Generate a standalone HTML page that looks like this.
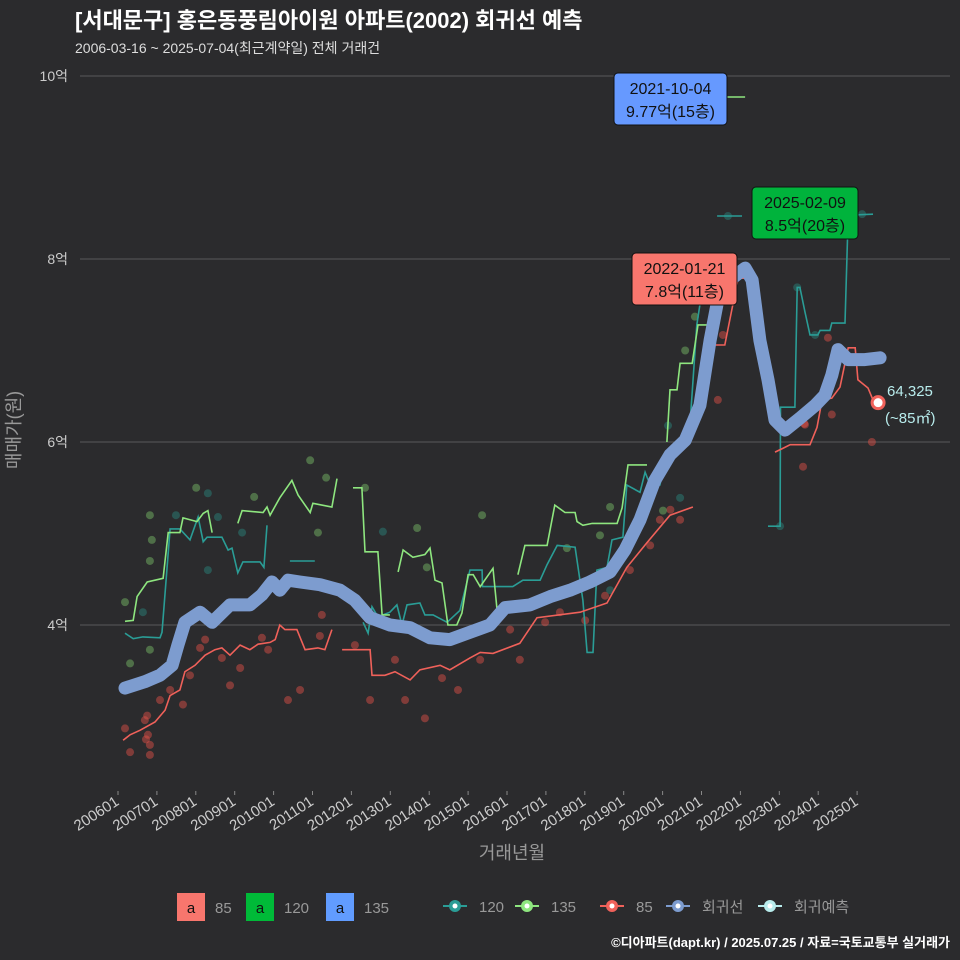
<!DOCTYPE html>
<html><head><meta charset="utf-8">
<style>
body{margin:0;background:#2b2b2d;}
svg{display:block;font-family:"Liberation Sans","Noto Sans CJK KR",sans-serif;}
</style></head>
<body>
<svg id="chart" width="960" height="960" viewBox="0 0 960 960">
<rect x="0" y="0" width="960" height="960" fill="#2b2b2d"/>
<text x="75" y="28" fill="#ffffff" font-size="22" font-weight="bold">[서대문구] 홍은동풍림아이원 아파트(2002) 회귀선 예측</text>
<text x="75" y="53" fill="#dddddd" font-size="14">2006-03-16 ~ 2025-07-04(최근계약일) 전체 거래건</text>
<g id="grid"></g>
<g id="series"></g>
<g id="xaxis"></g>
<g id="yaxis"></g>
<text x="512" y="859" fill="#999999" font-size="18" text-anchor="middle">거래년월</text>
<text transform="translate(20,430) rotate(-90)" fill="#999999" font-size="18" text-anchor="middle">매매가(원)</text>
<g id="legend"></g>
<text x="950" y="947" fill="#ffffff" font-size="13" font-weight="bold" text-anchor="end">©디아파트(dapt.kr) / 2025.07.25 / 자료=국토교통부 실거래가</text>
</svg>
<script>
const yTicks=[4,6,8,10];
const yTickLabels=["4억","6억","8억","10억"];
const xTickYears=[2006,2007,2008,2009,2010,2011,2012,2013,2014,2015,2016,2017,2018,2019,2020,2021,2022,2023,2024,2025];
const xTickLabels=["200601","200701","200801","200901","201001","201101","201201","201301","201401","201501","201601","201701","201801","201901","202001","202101","202201","202301","202401","202501"];

const regYears=[2006.18,2006.69,2007.08,2007.39,2007.54,2007.72,2008.11,2008.42,2008.88,2009.39,2009.70,2009.96,2010.16,2010.37,2010.68,2011.19,2011.71,2012.09,2012.48,2012.99,2013.51,2014.02,2014.53,2015.05,2015.56,2015.95,2016.59,2017.11,2017.62,2018.13,2018.65,2019.03,2019.42,2019.80,2020.19,2020.58,2020.96,2021.22,2021.42,2021.73,2022.12,2022.30,2022.50,2022.71,2022.89,2023.15,2023.53,2023.92,2024.17,2024.35,2024.51,2024.77,2025.20,2025.59];
const regValues=[3.31,3.38,3.45,3.56,3.78,4.03,4.14,4.03,4.22,4.22,4.33,4.47,4.38,4.49,4.47,4.44,4.38,4.27,4.08,4.00,3.97,3.86,3.84,3.92,4.00,4.19,4.22,4.31,4.38,4.47,4.58,4.82,5.15,5.58,5.86,6.02,6.40,7.11,7.55,7.77,7.90,7.77,7.11,6.68,6.24,6.13,6.26,6.40,6.51,6.73,7.01,6.90,6.90,6.92];

const redYears=[2006.13,2006.31,2006.57,2006.95,2007.21,2007.34,2007.59,2007.72,2007.98,2008.24,2008.49,2008.67,2008.88,2009.14,2009.39,2009.60,2009.91,2010.04,2010.16,2010.29,2010.60,2010.81,2011.14,2011.32,2011.50,null,2011.76,2012.48,2012.53,2012.86,2013.12,2013.51,2013.76,2014.28,2014.53,2015.05,2015.31,2015.64,2016.33,2016.77,2017.88,2018.57,2019.08,2019.60,2020.19,2020.78,null,2021.04,2021.19,2021.60,2021.94,2022.32,null,2022.89,2023.09,2023.28,2023.79,2023.97,2024.10,2024.35,2024.56,2024.77,2024.95,2025.02,2025.28,2025.41];
const redValues=[2.74,2.80,2.85,2.94,3.07,3.23,3.29,3.49,3.56,3.67,3.73,3.75,3.67,3.78,3.73,3.79,3.81,3.84,4.00,3.95,3.95,3.73,3.75,3.73,3.95,null,3.73,3.73,3.45,3.45,3.49,3.40,3.51,3.56,3.51,3.64,3.70,3.69,3.80,4.08,4.14,4.24,4.63,4.90,5.20,5.29,null,6.46,7.06,7.06,7.79,7.79,null,5.89,5.93,5.97,5.97,6.16,6.46,6.48,6.60,7.03,7.03,6.68,6.59,6.46];

const greenYears=[2006.18,2006.39,2006.49,2006.75,2007.16,2007.29,2007.59,2007.67,2008.03,2008.19,2008.31,2008.42,null,2009.08,2009.19,2009.73,2009.83,2009.91,2010.16,2010.47,2010.63,2010.94,2011.01,2011.50,2011.63,null,2012.04,2012.27,2012.35,2012.68,2012.79,2012.99,null,2013.20,2013.33,2013.58,2013.89,2014.02,2014.15,2014.33,2014.48,2014.71,2014.84,2015.00,2015.13,2015.31,2015.64,2015.77,null,2016.28,2016.46,2017.03,2017.23,2017.49,2017.75,2017.80,2017.95,2018.19,2018.83,2018.96,2019.11,2019.60,null,2020.11,2020.19,2020.37,2020.45,2020.76,2020.91,2021.14,2021.19,null,2021.66,2022.12];
const greenValues=[4.04,4.05,4.31,4.47,4.51,5.01,5.01,5.17,5.13,5.22,5.25,5.01,null,5.11,5.25,5.23,5.29,5.20,5.39,5.58,5.42,5.23,5.33,5.29,5.60,null,5.50,5.50,4.80,4.80,4.11,4.11,null,4.58,4.82,4.74,4.77,4.84,4.49,4.46,4.00,4.00,4.13,4.55,4.55,4.42,4.62,4.05,null,4.55,4.87,4.87,5.31,5.23,5.23,5.13,5.09,5.11,5.11,5.28,5.75,5.75,null,6.00,6.57,6.57,6.86,6.86,7.28,7.28,7.20,null,9.77,9.77];

const tealYears=[2006.18,2006.39,2006.64,2007.08,2007.13,2007.34,2007.59,2007.85,2008.06,2008.19,2008.29,2008.67,2008.83,2008.93,2009.08,2009.21,2009.65,2009.75,2009.83,null,2010.42,2011.06,null,2012.30,2012.43,2012.53,2012.68,2012.99,2013.17,2013.30,2013.43,2013.76,2013.89,2014.10,2014.46,2014.79,2015.05,2015.36,2015.37,2016.15,2016.41,2016.85,2017.03,2017.29,2017.75,2017.95,2018.06,2018.21,2018.31,2018.57,2018.70,2018.98,2019.08,2019.42,2019.55,2019.68,2019.93,2020.11,2020.40,2020.58,2020.70,2020.88,2020.96,null,2021.40,2022.04,null,2022.71,2023.02,2023.03,2023.40,2023.46,2023.53,2023.66,2023.79,2023.99,2024.05,2024.30,2024.35,2024.69,2024.77,2025.41];
const tealValues=[3.91,3.85,3.87,3.86,3.92,5.05,5.05,4.93,5.18,4.91,4.96,4.96,4.82,4.84,4.57,4.69,4.69,4.63,5.09,null,4.70,4.70,null,4.03,3.91,4.20,4.09,4.14,4.22,4.00,4.22,4.24,4.11,4.11,4.03,4.16,4.60,4.60,4.42,4.42,4.49,4.49,4.66,4.87,4.85,4.27,3.70,3.70,4.60,4.63,4.93,4.96,5.53,5.45,5.67,5.53,5.53,5.88,5.97,6.16,6.16,7.28,7.50,null,8.47,8.47,null,5.08,5.08,6.38,6.38,7.69,7.69,7.42,7.17,7.17,7.22,7.22,7.30,7.30,8.48,8.49];

const redDotYears=[2006.18,2006.31,2006.69,2006.77,2006.82,2006.82,2006.75,2006.72,2007.08,2007.34,2007.67,2007.85,2008.11,2008.24,2008.37,2008.67,2008.88,2009.14,2009.70,2009.86,2010.37,2010.68,2011.19,2011.24,2012.09,2012.48,2013.12,2013.38,2013.89,2014.33,2014.74,2015.31,2016.08,2016.33,2016.98,2017.36,2018.01,2018.52,2019.16,2019.68,2019.93,2020.45,2020.20,2021.42,2021.55,2023.61,2023.66,2023.64,2024.25,2024.35,2025.38];
const redDotValues=[2.87,2.61,2.96,2.80,2.69,2.58,3.01,2.75,3.18,3.29,3.13,3.45,3.75,3.84,4.05,3.64,3.34,3.53,3.86,3.73,3.18,3.29,3.88,4.11,3.78,3.18,3.62,3.18,2.98,3.42,3.29,3.62,3.95,3.62,4.03,4.14,4.05,4.32,4.60,4.87,5.15,5.15,5.26,6.46,7.17,5.73,6.19,6.20,7.14,6.30,6.00];
const greenDotYears=[2006.18,2006.82,2006.87,2006.82,2006.31,2006.82,2008.01,2009.50,2010.94,2011.35,2011.14,2012.35,2013.69,2013.94,2015.36,2017.54,2018.39,2018.65,2020.01,2020.58,2020.83];
const greenDotValues=[4.25,5.20,4.93,4.70,3.58,3.73,5.50,5.40,5.80,5.61,5.01,5.50,5.06,4.63,5.20,4.84,4.98,5.29,5.25,7.00,7.37];
const tealDotYears=[2006.64,2007.49,2008.31,2008.57,2009.19,2008.31,2012.81,2018.65,2020.14,2020.45,2021.68,2023.02,2023.46,2025.13,2023.92];
const tealDotValues=[4.14,5.20,5.44,5.18,5.01,4.60,5.02,4.38,6.18,5.39,8.47,5.08,7.69,8.49,7.17];

const predYear=2025.54, predValue=6.43;

const NS="http://www.w3.org/2000/svg";
function X(yr){return 118+(yr-2006)*38.9;}
function Y(v){return 625-(v-4)*91.5;}
function mk(tag,attrs,parent){const e=document.createElementNS(NS,tag);for(const k in attrs)e.setAttribute(k,attrs[k]);parent.appendChild(e);return e;}
const grid=document.getElementById('grid'),ser=document.getElementById('series'),xa=document.getElementById('xaxis'),ya=document.getElementById('yaxis'),lg=document.getElementById('legend');

yTicks.forEach((v,i)=>{
  const l=mk('line',{x1:80,x2:950,y1:Y(v),y2:Y(v),stroke:'#5a5a5a','stroke-width':1},grid);
  
  
  const t=mk('text',{x:68,y:Y(v)+5,fill:'#cccccc','font-size':14,'text-anchor':'end'},ya);
  t.textContent=yTickLabels[i];
  
  
});
xTickYears.forEach((yr,i)=>{
  const x=X(yr);
  const tk=mk('line',{x1:x,x2:x,y1:791,y2:795,stroke:'#888','stroke-width':1},xa);
  
  
  const t=mk('text',{transform:`translate(${x+2},${804}) rotate(-33)`,fill:'#cccccc','font-size':15,'text-anchor':'end'},xa);
  t.textContent=xTickLabels[i];
  
  
});

function pathFrom(years,vals){let d='',pen=false;for(let i=0;i<years.length;i++){if(years[i]===null){pen=false;continue;}d+=(pen?'L':'M')+X(years[i]).toFixed(1)+','+Y(vals[i]).toFixed(1);pen=true;}return d;}
function dots(years,vals,color,name){years.forEach((yr,i)=>{const c=mk('circle',{cx:X(yr),cy:Y(vals[i]),r:4,fill:color,'fill-opacity':0.45},ser);});}

dots(redDotYears,redDotValues,'#e8524a','point-85');
dots(greenDotYears,greenDotValues,'#7cc46a','point-135');
dots(tealDotYears,tealDotValues,'#2a8a80','point-120');

let p=mk('path',{d:pathFrom(tealYears,tealValues),fill:'none',stroke:'#2a9d96','stroke-width':1.6},ser);


p=mk('path',{d:pathFrom(greenYears,greenValues),fill:'none',stroke:'#8ee67f','stroke-width':1.6},ser);


p=mk('path',{d:pathFrom(redYears,redValues),fill:'none',stroke:'#f0615a','stroke-width':1.6},ser);


p=mk('path',{d:pathFrom(regYears,regValues),fill:'none',stroke:'#7d9ccf','stroke-width':13,'stroke-linecap':'round','stroke-linejoin':'round'},ser);



const pc=mk('circle',{cx:X(predYear),cy:Y(predValue),r:6,fill:'#ffffff',stroke:'#f0615a','stroke-width':3},ser);


let pt=mk('text',{x:887,y:396,fill:'#b8ecec','font-size':15},ser);pt.textContent='64,325';


pt=mk('text',{x:885,y:423,fill:'#b8ecec','font-size':15},ser);pt.textContent='(~85㎡)';



function label(x,y,w,fill,l1,l2,name){const g=mk('g',{},ser);
  mk('rect',{x:x,y:y,width:w,height:52,rx:4,fill:fill,stroke:'#111','stroke-width':1},g);
  const a=mk('text',{x:x+w/2,y:y+21,'font-size':16,'text-anchor':'middle',fill:'#111'},g);a.textContent=l1;
  const b=mk('text',{x:x+w/2,y:y+44,'font-size':16,'text-anchor':'middle',fill:'#111'},g);b.textContent=l2;}
label(614,73,113,'#6699ff','2021-10-04','9.77억(15층)','max-label-135');
label(752,187,106,'#00b33c','2025-02-09','8.5억(20층)','max-label-120');
label(632,253,105,'#f8766d','2022-01-21','7.8억(11층)','max-label-85');

const boxes=[['#f8766d','85',177],['#00ba38','120',246],['#619cff','135',326]];
boxes.forEach(b=>{const g=mk('g',{},lg);
  mk('rect',{x:b[2],y:893,width:28,height:28,fill:b[0]},g);
  const a=mk('text',{x:b[2]+14,y:913,'font-size':15,'text-anchor':'middle',fill:'#111'},g);a.textContent='a';
  const t=mk('text',{x:b[2]+38,y:913,'font-size':15,fill:'#999'},g);t.textContent=b[1];});
const lines=[['#2a9d96','120',443],['#8ee67f','135',515],['#f0615a','85',600],['#7d9ccf','회귀선',666],['#b8ecec','회귀예측',758]];
lines.forEach(l=>{const g=mk('g',{},lg);
  mk('line',{x1:l[2],x2:l[2]+24,y1:906,y2:906,stroke:l[0],'stroke-width':2},g);
  mk('circle',{cx:l[2]+12,cy:906,r:6,fill:l[0]},g);
  mk('circle',{cx:l[2]+12,cy:906,r:2.5,fill:'#fff'},g);
  const t=mk('text',{x:l[2]+36,y:912,'font-size':15,fill:'#999'},g);t.textContent=l[1];});
</script>
</body></html>
